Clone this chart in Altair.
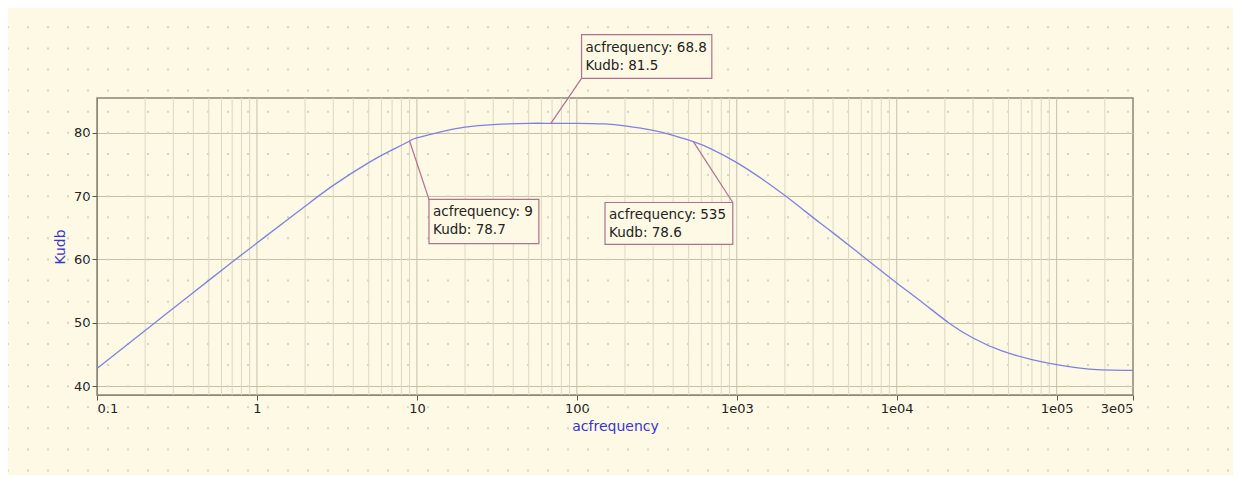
import altair as alt
import pandas as pd

# ---------------- data ----------------
freq = [0.1, 0.2, 0.3, 0.5, 0.7, 1, 1.5, 2, 3, 5, 7, 9, 10, 15, 20, 30, 50,
        68.8, 100, 150, 200, 300, 400, 535, 700, 1000, 1500, 2000, 2500,
        3300, 4000, 6500, 1e4, 1.5e4, 2.14e4, 3e4, 4.5e4, 7e4, 1e5, 1.6e5, 3e5]
kudb = [42.8, 48.8, 52.3, 56.7, 59.6, 62.6, 66.0, 68.4, 71.7, 75.3, 77.3,
        78.7, 79.2, 80.3, 80.9, 81.3, 81.5, 81.5, 81.5, 81.4, 81.1, 80.4,
        79.6, 78.6, 77.4, 75.3, 72.4, 70.1, 68.2, 65.8, 64.2, 60.0, 56.3,
        52.9, 49.9, 47.6, 45.6, 44.2, 43.4, 42.7, 42.5]

x_tick_vals = [0.1, 1, 10, 100, 1000, 1e4, 1e5, 3e5]
x_tick_labels = ["0.1", "1", "10", "100", "1e03", "1e04", "1e05", "3e05"]
y_tick_vals = [40, 50, 60, 70, 80]

# cursor annotations
ann_freq = [68.8, 9, 535]
ann_kudb = [81.5, 78.7, 78.6]
box_left = [107, 11.9, 150]
box_right = [698, 57.9, 944]
box_top = [95.5, 69.5, 69.0]
box_bottom = [88.6, 62.5, 62.4]
lead_f = [107, 11.9, 944]
lead_v = [88.6, 69.5, 69.0]

# ---------------- styling ----------------
BG = "#fdf9e5"
FONT = "DejaVu Sans"
MAJOR = "#c4c0a6"
MINOR = "#dcd8c2"
DOTS = "#d8d4bf"
BORDER = "#8a8775"
CURVE = "#8080e2"
MAUVE = "#b0708f"
BLUE = "#3535cc"

W, H = 1036, 297
xscale = alt.Scale(type="log", domain=[0.1, 3e5], nice=False)
yscale = alt.Scale(domain=[38.6, 85.5], nice=False, zero=False)

label_expr = "".join(
    f"abs(datum.value - {v}) < {v * 1e-6} ? '{l}' : "
    for v, l in zip(x_tick_vals, x_tick_labels)) + "''"

xaxis = alt.Axis(values=x_tick_vals, labelExpr=label_expr, grid=False,
                 labelOverlap=False, tickSize=5, tickColor="#55534a",
                 domainColor=BORDER, labelFont=FONT, labelFontSize=13,
                 labelColor="#222222", labelPadding=2, title="acfrequency",
                 titleFont=FONT, titleFontSize=14, titleFontWeight="normal",
                 titleColor=BLUE, titlePadding=4)
yaxis = alt.Axis(values=y_tick_vals, grid=True, gridColor=MAJOR,
                 tickSize=5, tickColor="#55534a", domainColor=BORDER,
                 labelFont=FONT, labelFontSize=13, labelColor="#222222",
                 labelPadding=2, title="Kudb", titleFont=FONT,
                 titleFontSize=14, titleFontWeight="normal", titleColor=BLUE,
                 titlePadding=6)

def X(field):
    return alt.X(f"{field}:Q", scale=xscale, axis=xaxis, title="acfrequency")

def Y(field):
    return alt.Y(f"{field}:Q", scale=yscale, axis=yaxis, title="Kudb")

# decorative dotted background pattern
dots_df = pd.DataFrame({"v": [40 + k * 10 / 3 for k in range(-4, 19)]})
dots = alt.Chart(dots_df).mark_rule(color=DOTS, strokeWidth=2,
                                    strokeDash=[2, 18]).encode(
    y=Y("v"), x=alt.value(-90), x2=alt.value(1136))

minor_vals = [m * 10 ** d for d in range(-1, 6) for m in range(2, 10)
              if m * 10 ** d < 3e5]
major_vals = [10 ** d for d in range(0, 6)]
minor = alt.Chart(pd.DataFrame({"f": minor_vals})).mark_rule(
    color=MINOR, strokeWidth=1).encode(x=X("f"))
major = alt.Chart(pd.DataFrame({"f": major_vals})).mark_rule(
    color=MAJOR, strokeWidth=1).encode(x=X("f"))

curve_df = pd.DataFrame({"f": freq, "k": kudb})
curve = alt.Chart(curve_df).mark_line(color=CURVE, strokeWidth=1.3,
                                      interpolate="natural").encode(
    x=X("f"), y=Y("k"))

ann_df = pd.DataFrame({
    "f": ann_freq, "k": ann_kudb,
    "bl": box_left, "br": box_right, "bt": box_top, "bb": box_bottom,
    "lf": lead_f, "lv": lead_v,
    "txt": [f"acfrequency: {f:g}\nKudb: {k:g}" for f, k in zip(ann_freq, ann_kudb)],
})
leaders = alt.Chart(ann_df).mark_rule(color=MAUVE, strokeWidth=1.2).encode(
    x=X("f"), y=Y("k"), x2="lf:Q", y2="lv:Q")
boxes = alt.Chart(ann_df).mark_rect(fill=BG, stroke=MAUVE, strokeWidth=1.2).encode(
    x=X("bl"), x2="br:Q", y=Y("bt"), y2="bb:Q")
texts = alt.Chart(ann_df).mark_text(
    align="left", baseline="top", dx=4, dy=6, lineBreak="\n", lineHeight=18,
    font=FONT, fontSize=13.5, color="#222222").encode(
    x=X("bl"), y=Y("bt"), text="txt:N")

chart = alt.layer(dots, minor, major, curve, leaders, boxes, texts).properties(
    width=W, height=H, background=BG,
    padding={"left": 89, "top": 90, "right": 100, "bottom": 80},
    autosize=alt.AutoSizeParams(type="none"),
).configure_view(stroke=BORDER, strokeWidth=1.5, fill=BG)

chart.save("out.html", embed_options={"renderer": "svg", "actions": False})
